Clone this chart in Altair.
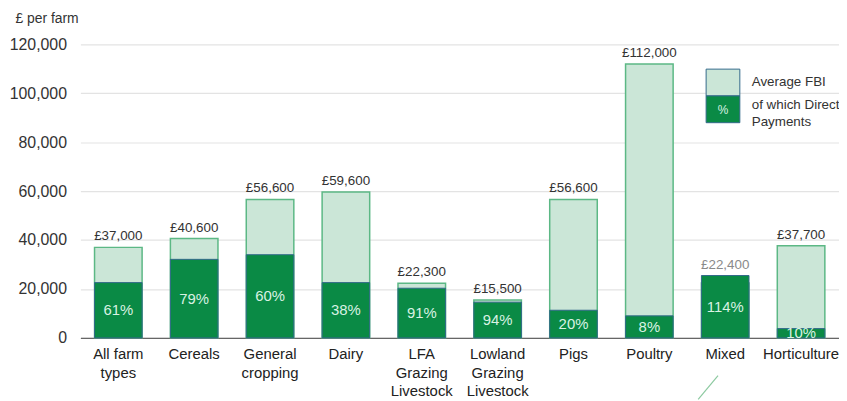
import altair as alt
import pandas as pd

categories = ["All farm\ntypes", "Cereals", "General\ncropping", "Dairy",
              "LFA\nGrazing\nLivestock", "Lowland\nGrazing\nLivestock", "Pigs",
              "Poultry", "Mixed", "Horticulture"]
total_fbi = [37000, 40600, 56600, 59600, 22300, 15500, 56600, 112000, 22400, 37700]
direct_payments = [22600, 32100, 34000, 22600, 20300, 14600, 11300, 9000, 25500, 3800]
pct_labels = ["61%", "79%", "60%", "38%", "91%", "94%", "20%", "8%", "114%", "10%"]
total_labels = ["£37,000", "£40,600", "£56,600", "£59,600", "£22,300", "£15,500",
                "£56,600", "£112,000", "£22,400", "£37,700"]
label_colors = ["#333333"] * 8 + ["#8a8a8a", "#333333"]
y_ticks = [0, 20000, 40000, 60000, 80000, 100000, 120000]

df = pd.DataFrame({
    "cat": categories,
    "total": total_fbi,
    "dp": direct_payments,
    "pct": pct_labels,
    "tlabel": total_labels,
    "tcolor": label_colors,
})

FONT = "Liberation Sans"
LIGHT = "#cbe6d7"
LIGHT_STROKE = "#5cb885"
DARK = "#0a8a45"
DARK_STROKE = "#33698a"

xenc = alt.X("cat:N", sort=categories, title=None,
             scale=alt.Scale(paddingInner=0.373, paddingOuter=0.1865),
             axis=alt.Axis(labelAngle=0, labelFontSize=15, labelColor="#222222",
                           labelPadding=9, labelLineHeight=18.5, labelBaseline="top",
                           labelExpr="split(datum.label, '\\n')",
                           domainColor="#666666", domainWidth=1.5, ticks=False,
                           labelFont=FONT))
yscale = alt.Scale(domain=[0, 120000])

base = alt.Chart(df)

light = base.mark_bar(fill=LIGHT, stroke=LIGHT_STROKE, strokeWidth=1.5).encode(
    x=xenc,
    y=alt.Y("total:Q", scale=yscale, title="£ per farm",
            axis=alt.Axis(values=y_ticks, format=",.0f", labelFontSize=16,
                          labelColor="#333333", labelPadding=14, domain=False,
                          ticks=False, gridColor="#e3e3e3", gridWidth=1.2,
                          labelFont=FONT, titleAngle=0, titleX=-66, titleY=-26,
                          titleAlign="left", titleBaseline="middle",
                          titleFontSize=14, titleFontWeight="normal",
                          titleColor="#333333", titleFont=FONT)),
)

dark = base.mark_bar(fill=DARK, stroke=DARK_STROKE, strokeWidth=1).encode(
    x=alt.X("cat:N", sort=categories),
    y=alt.Y("dp:Q", scale=yscale),
)

tot_text = base.transform_calculate(
    ly="max(datum.total, datum.dp)"
).mark_text(dy=-11, fontSize=13.5, font=FONT).encode(
    x=alt.X("cat:N", sort=categories),
    y=alt.Y("ly:Q", scale=yscale),
    text="tlabel:N",
    color=alt.Color("tcolor:N", scale=None),
)

pct_text = base.transform_calculate(
    my="datum.dp / 2"
).mark_text(fontSize=15, font=FONT, color="#d9f2e3", baseline="middle").encode(
    x=alt.X("cat:N", sort=categories),
    y=alt.Y("my:Q", scale=yscale),
    text="pct:N",
)

one = alt.Chart(pd.DataFrame({"a": [0]}))
leg_light = one.mark_rect(fill=LIGHT, stroke=DARK_STROKE, strokeWidth=1).encode(
    x=alt.value(631), x2=alt.value(665), y=alt.value(25), y2=alt.value(52))
leg_dark = one.mark_rect(fill=DARK, stroke=DARK_STROKE, strokeWidth=1).encode(
    x=alt.value(631), x2=alt.value(665), y=alt.value(52), y2=alt.value(79))
leg_pct = one.mark_text(text="%", fontSize=12, font=FONT, color="#d9f2e3",
                        baseline="middle").encode(x=alt.value(648), y=alt.value(66))
leg_t1 = one.mark_text(text="Average FBI", fontSize=13.5, font=FONT, color="#333333",
                       align="left", baseline="middle").encode(x=alt.value(677), y=alt.value(38))
leg_t2 = one.mark_text(text="of which Direct", fontSize=13.5, font=FONT, color="#333333",
                       align="left", baseline="middle").encode(x=alt.value(677), y=alt.value(61))
leg_t3 = one.mark_text(text="Payments", fontSize=13.5, font=FONT, color="#333333",
                       align="left", baseline="middle").encode(x=alt.value(677), y=alt.value(78))
stray = one.mark_rule(color="#8cc9a0", strokeWidth=1.2).encode(
    x=alt.value(643), y=alt.value(334), x2=alt.value(623), y2=alt.value(358))

chart = alt.layer(light, dark, tot_text, pct_text, leg_light, leg_dark, leg_pct,
                  leg_t1, leg_t2, leg_t3, stray).properties(
    width=765, height=296,
    autosize=alt.AutoSizeParams(type="none"),
    padding={"left": 73, "top": 35, "right": 0, "bottom": 62},
    background="white",
).configure_view(stroke=None)

chart.save("out.html", embed_options={"renderer": "svg", "actions": False})
